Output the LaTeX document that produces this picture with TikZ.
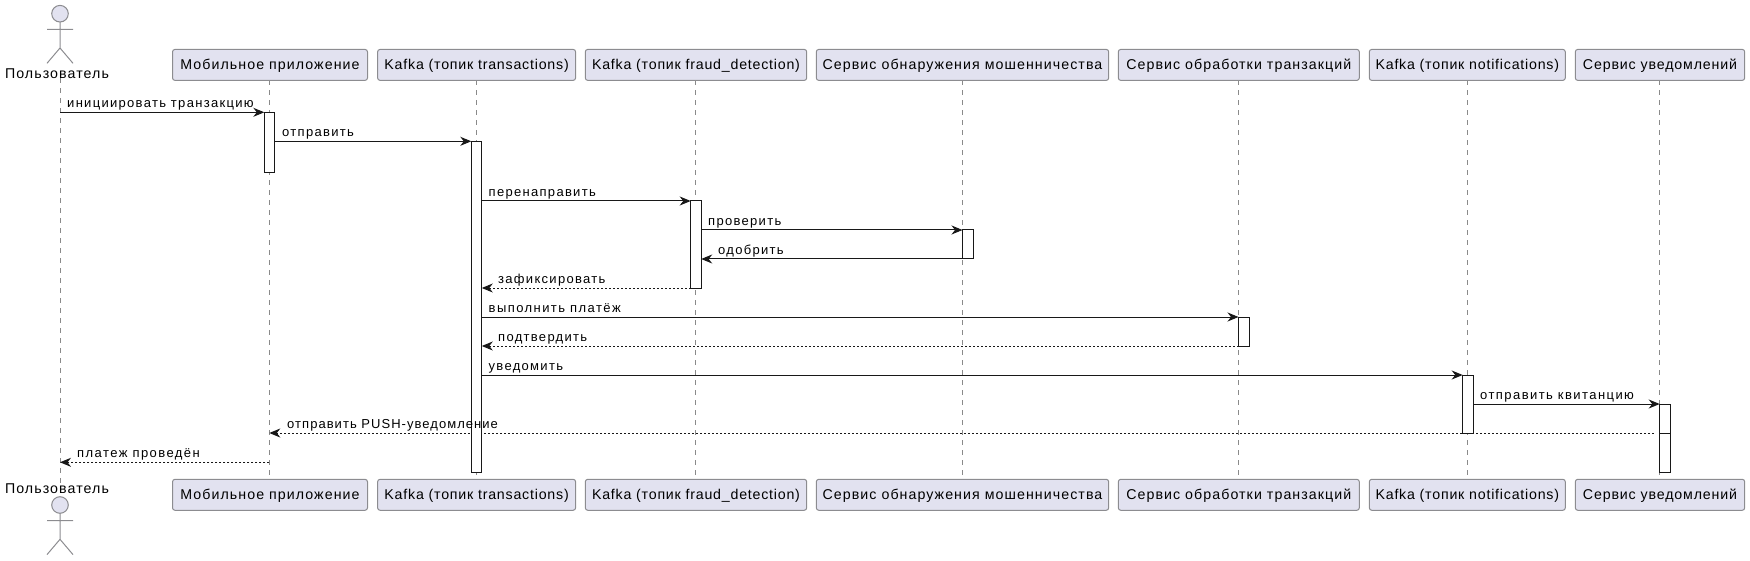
\documentclass[tikz,border=0pt]{standalone}
\usepackage{fontspec}
\setmainfont{Liberation Sans}
\newfontfamily\partfont{Liberation Sans}[LetterSpace=7.5]
\newfontfamily\kafkafont{Liberation Sans}[LetterSpace=5.5]
\newfontfamily\slimfont{Liberation Sans}[LetterSpace=6]
\newfontfamily\msgfont{Liberation Sans}[LetterSpace=10]
\newfontfamily\longfont{Liberation Sans}[LetterSpace=11]
\newfontfamily\pushfont{Liberation Sans}[LetterSpace=8]
\usepackage{tikz}
\usetikzlibrary{positioning,calc,arrows.meta,backgrounds}

\definecolor{partfill}{HTML}{E2E2F0}
\definecolor{partline}{HTML}{8C8C90}
\definecolor{lifeline}{HTML}{8A8A8A}
\definecolor{msgline}{HTML}{181818}

\tikzset{
    partbox/.style={draw=partline, fill=partfill, line width=1pt, rounded corners=2.5pt, minimum height=31pt, outer sep=0pt, inner sep=0pt, text height=13pt, text depth=3pt, font=\fontsize{14.2}{16}\partfont},
    actorlabel/.style={inner sep=0pt, outer sep=0pt, font=\fontsize{14.2}{16}\partfont},
    actorline/.style={draw=partline, line width=1pt},
    lifedash/.style={draw=lifeline, line width=1pt, dash pattern=on 5pt off 5pt},
    actbox/.style={draw=msgline, fill=white, line width=1pt, minimum width=10.5pt, inner sep=0pt, outer sep=0pt, anchor=north west},
    msg/.style={draw=msgline, line width=1pt, -{Stealth[length=11pt,width=9pt,inset=3.5pt]}},
    msgback/.style={msg, dash pattern=on 2pt off 2pt},
    msglabel/.style={anchor=base west, inner sep=0pt, font=\fontsize{13}{15}\msgfont}
}

\begin{document}
\begin{tikzpicture}[x=1pt,y=-1pt]
    \useasboundingbox (0,0) rectangle (1750,561);

    % participants, top and bottom row
    \foreach \nm/\cx/\wdth/\txt in {mob/270/195/{Мобильное приложение}, tx/476.6/198/{\kafkafont Kafka (топик transactions)}, fraud/696/221.4/{\kafkafont Kafka (топик fraud\_detection)}, svc/962.5/292.4/{Сервис обнаружения мошенничества}, proc/1238.8/241/{Сервис обработки транзакций}, notif/1467.3/196/{\kafkafont Kafka (топик notifications)}, push/1660/169.4/{\slimfont Сервис уведомлений}} {
        \node[partbox, minimum width=\wdth pt] (\nm Top) at (\cx,64.9) {\txt};
        \node[partbox, minimum width=\wdth pt] (\nm Bot) at (\cx,494.8) {\txt};
    }

    % actor
    \node[actorlabel, anchor=base] (userTop) at (57,78.2) {Пользователь};
    \node[actorlabel, anchor=base] (userBot) at (57,493) {Пользователь};
    \coordinate (userLine) at (60,0);
    \coordinate (mobLine) at (269.3,0);
    \foreach \dy in {0,491.3} {
        \begin{scope}[yshift=-\dy pt]
            \draw[actorline, fill=partfill] (60,13.7) circle (8.3);
            \draw[actorline] (60,22) -- (60,48) (47,29.3) -- (73,29.3) (47,63.3) -- (60,48) -- (73,63.3);
        \end{scope}
    }

    % activation bars
    \node[actbox, minimum height=60pt] (actMob) at (264.3,112.3) {};
    \node[actbox, minimum height=331pt] (actTx) at (471.3,141.3) {};
    \node[actbox, minimum height=87pt] (actFraud) at (690.7,201) {};
    \node[actbox, minimum height=29pt] (actSvc) at (962.5,230) {};
    \node[actbox, minimum height=29pt] (actProc) at (1238.5,317) {};
    \node[actbox, minimum height=58pt] (actNotif) at (1462.7,375) {};
    \node[actbox, minimum height=29pt] (actPush) at (1659.7,404) {};
    \node[actbox, minimum height=39pt] (actPushB) at (1659.7,433) {};
    \coordinate (paid) at (0,462.3);

    % lifelines and messages go under the bars
    \begin{pgfonlayer}{background}
        \draw[lifedash] (userLine |- userTop.south) -- (userLine |- userBot.north);
        \foreach \nm/\off in {mob/-0.7, tx/-0.3, fraud/-0.7, svc/0.2, proc/0, notif/0, push/-0.7} {
            \draw[lifedash] ([xshift=\off pt]\nm Top.south) -- ([xshift=\off pt]\nm Bot.north);
        }
        \draw[msg] (userLine |- actMob.north) -- (actMob.north west);
        \draw[msg] (actMob.east |- actTx.north) -- (actTx.north west);
        \draw[msg] (actTx.east |- actFraud.north) -- (actFraud.north west);
        \draw[msg] (actFraud.east |- actSvc.north) -- (actSvc.north west);
        \draw[msg] (actSvc.south west) -- (actFraud.east |- actSvc.south);
        \draw[msgback] (actFraud.south west) -- (actTx.east |- actFraud.south);
        \draw[msg] (actTx.east |- actProc.north) -- (actProc.north west);
        \draw[msgback] (actProc.south west) -- (actTx.east |- actProc.south);
        \draw[msg] (actTx.east |- actNotif.north) -- (actNotif.north west);
        \draw[msg] (actNotif.east |- actPush.north) -- (actPush.north west);
        \draw[msgback] ([xshift=-6pt]actPush.south west) -- (mobLine |- actPush.south);
        \draw[msgback] (mobLine |- paid) -- (userLine |- paid);
    \end{pgfonlayer}

    % message labels
    \node[msglabel] (lblStart) at (67,107.6) {инициировать транзакцию};
    \node[msglabel] (lblSend) at (282,136.6) {отправить};
    \node[msglabel] (lblRedirect) at (488.5,196.6) {перенаправить};
    \node[msglabel] (lblCheck) at (708,225.6) {проверить};
    \node[msglabel] (lblApprove) at (718,254.6) {одобрить};
    \node[msglabel] (lblCommit) at (498,283.6) {зафиксировать};
    \node[msglabel] (lblPay) at (488.5,312.6) {\longfont выполнить платёж};
    \node[msglabel] (lblConfirm) at (498,341.6) {подтвердить};
    \node[msglabel] (lblNotify) at (488.5,370.6) {уведомить};
    \node[msglabel] (lblReceipt) at (1480,399.6) {\longfont отправить квитанцию};
    \node[msglabel] (lblPush) at (287,428.6) {\pushfont отправить PUSH-уведомление};
    \node[msglabel] (lblPaid) at (77,457.6) {\longfont платеж проведён};
\end{tikzpicture}
\end{document}
